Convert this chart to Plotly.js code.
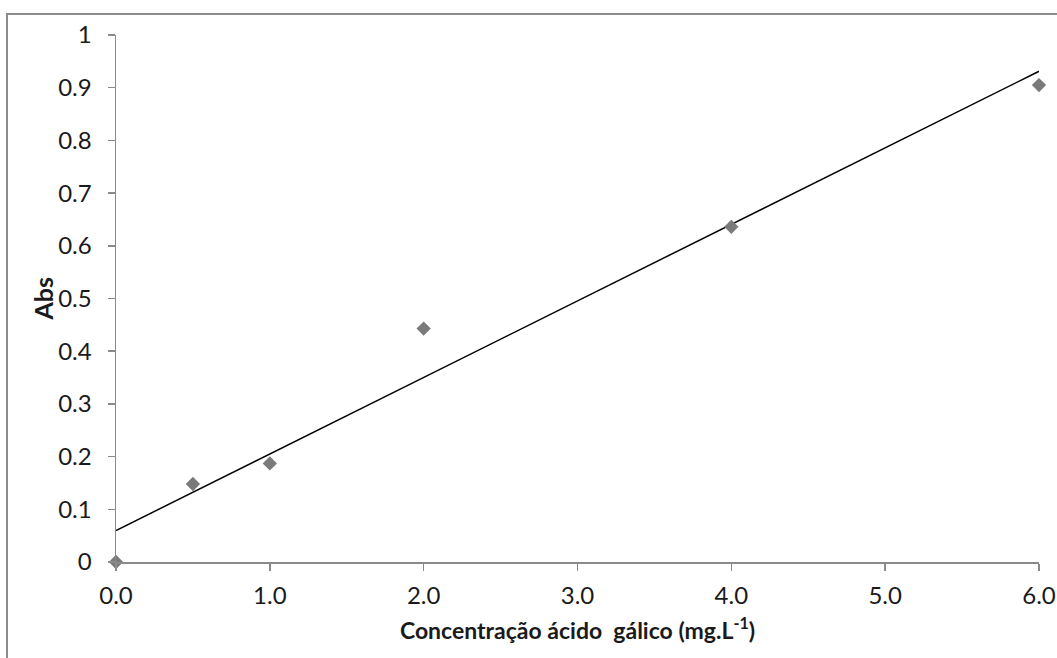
<!DOCTYPE html>
<html>
<head>
<meta charset="utf-8">
<script src="https://cdn.plot.ly/plotly-3.0.1.min.js"></script>
<style>
  html, body { margin: 0; padding: 0; background: #fff; }
  #wrap { position: relative; width: 1057px; height: 658px; overflow: hidden; }
  #chart { position: absolute; left: 0; top: 0; width: 1057px; height: 658px; }
  #frameTop { position: absolute; left: 6px; top: 13px; width: 1051px; height: 0; border-top: 2px solid #8c8c8c; }
  #frameLeft { position: absolute; left: 6px; top: 13px; width: 0; height: 645px; border-left: 2px solid #8c8c8c; }
</style>
</head>
<body>
<div id="wrap">
  <div id="chart"></div>
  <div id="frameTop"></div>
  <div id="frameLeft"></div>
</div>
<script>
// Data
const concentration = [0, 0.5, 1, 2, 4, 6];
const absorbance = [0.000, 0.148, 0.187, 0.443, 0.636, 0.905];
const xTickVals = [0, 1, 2, 3, 4, 5, 6];
const xTickText = ['0.0', '1.0', '2.0', '3.0', '4.0', '5.0', '6.0'];
const yTickVals = [0, 0.1, 0.2, 0.3, 0.4, 0.5, 0.6, 0.7, 0.8, 0.9, 1];
const yTickText = ['0', '0.1', '0.2', '0.3', '0.4', '0.5', '0.6', '0.7', '0.8', '0.9', '1'];
const xTitle = 'Concentração ácido  gálico (mg.L<sup>-1</sup>)';
const yTitle = 'Abs';

// Linear least-squares trendline (Excel-style)
const n = concentration.length;
const mx = concentration.reduce((a, b) => a + b, 0) / n;
const my = absorbance.reduce((a, b) => a + b, 0) / n;
let sxy = 0, sxx = 0;
for (let i = 0; i < n; i++) {
  sxy += (concentration[i] - mx) * (absorbance[i] - my);
  sxx += (concentration[i] - mx) ** 2;
}
const slope = sxy / sxx;
const intercept = my - slope * mx;
const fitX = [0, 6];
const fitY = fitX.map(x => intercept + slope * x);

const traces = [
  {
    x: fitX, y: fitY, mode: 'lines', type: 'scatter',
    line: { color: '#000000', width: 1.5 },
    hoverinfo: 'skip', showlegend: false, cliponaxis: false
  },
  {
    x: concentration, y: absorbance, mode: 'markers', type: 'scatter',
    marker: { symbol: 'diamond', size: 11, color: '#7a7a7a' },
    showlegend: false, cliponaxis: false
  }
];

const tickFont = { size: 24, family: 'Lato, sans-serif', color: '#1a1a1a' };
const titleFont = { size: 23, family: 'Lato, sans-serif', color: '#1a1a1a' };

const layout = {
  width: 1057, height: 658,
  margin: { l: 116, r: 18, t: 35, b: 96 },
  paper_bgcolor: '#ffffff', plot_bgcolor: '#ffffff',
  font: { family: 'Lato, "Open Sans", sans-serif', color: '#1a1a1a', size: 22 },
  showlegend: false,
  xaxis: {
    range: [0, 6], tickvals: xTickVals, ticktext: xTickText,
    showgrid: false, zeroline: false, showline: true, linecolor: '#8a8a8a', linewidth: 1.5,
    ticks: 'outside', ticklen: 7, tickcolor: '#8a8a8a', tickwidth: 1.5,
    ticklabelstandoff: 5,
    tickfont: tickFont,
    title: { text: '<b>' + xTitle + '</b>', font: titleFont, standoff: 14 }
  },
  yaxis: {
    range: [0, 1], tickvals: yTickVals, ticktext: yTickText,
    showgrid: false, zeroline: false, showline: true, linecolor: '#8a8a8a', linewidth: 1.5,
    ticks: 'outside', ticklen: 7, tickcolor: '#8a8a8a', tickwidth: 1.5,
    ticklabelstandoff: 11,
    tickfont: tickFont
  },
  annotations: [
    {
      text: '<b>' + yTitle + '</b>', textangle: -90, showarrow: false,
      xref: 'paper', yref: 'paper', x: 0, y: 0.5,
      xanchor: 'center', yanchor: 'middle', xshift: -74,
      font: { size: 25, family: 'Lato, sans-serif', color: '#1a1a1a' }
    }
  ]
};

Plotly.newPlot('chart', traces, layout, { displayModeBar: false, staticPlot: true });
</script>
</body>
</html>
